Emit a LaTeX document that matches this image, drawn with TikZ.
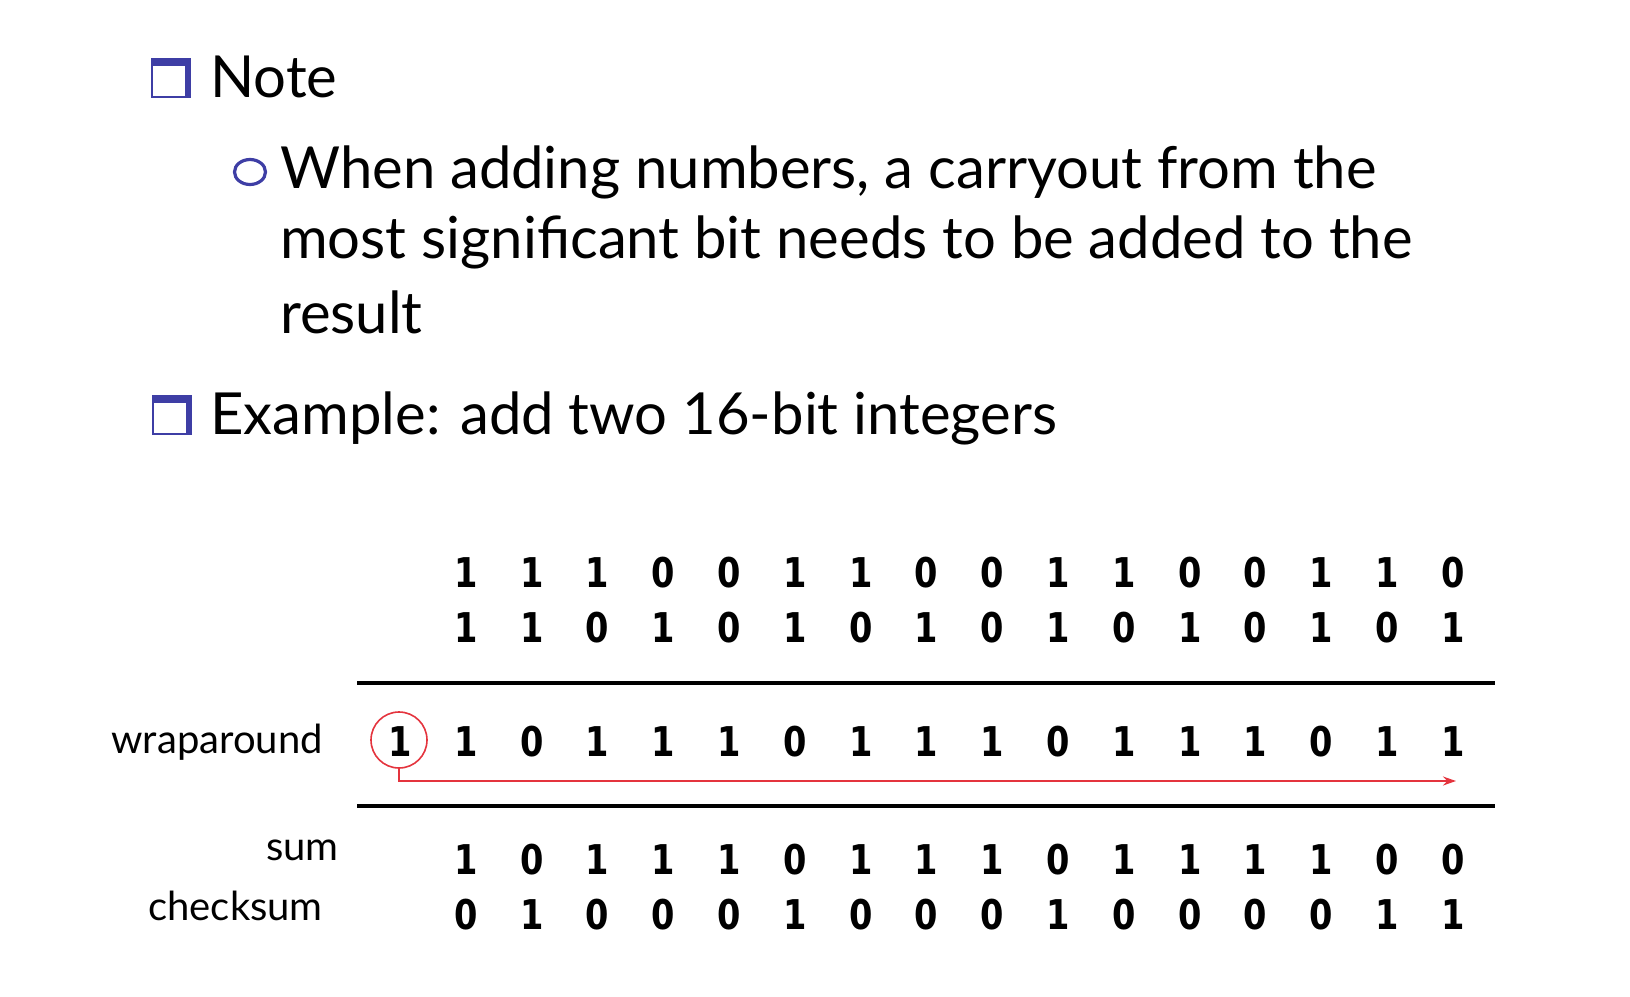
\documentclass[tikz,border=0pt]{standalone}
\usepackage{fontspec}
\setmainfont{Lato}
\newfontfamily\digitfont[FakeStretch=0.82]{DejaVu Sans}
\usetikzlibrary{arrows.meta}
\definecolor{bulletblue}{RGB}{62,62,165}
\definecolor{wrapred}{RGB}{228,52,62}
\tikzset{
  sqbullet/.pic={
    \draw[bulletblue, line width=2pt] (0,0) rectangle (38,-38);
    \fill[bulletblue] (-1,-39) rectangle (39,-31);
    \fill[bulletblue] (33,-39) rectangle (39,1);
  },
  heading/.style={anchor=base west, inner sep=0pt, font=\fontsize{58}{58}\selectfont},
  subtext/.style={anchor=base west, inner sep=0pt, font=\fontsize{58}{58}\selectfont},
  rowlabel/.style={anchor=base east, inner sep=0pt, font=\fontsize{40}{40}\selectfont},
  bit/.style={inner sep=0pt, font=\digitfont\bfseries\fontsize{41}{41}\selectfont},
  sumrule/.style={line width=4pt, black},
  carryring/.style={circle, draw=wrapred, line width=1.6pt, minimum size=56pt, inner sep=0pt},
  wraparrow/.style={wrapred, line width=1.6pt, -{Stealth[length=13pt,width=9pt]}}
}
\begin{document}
\begin{tikzpicture}[x=1pt,y=-1pt]
\useasboundingbox (0,0) rectangle (1630,996);
% bullets and texts
\pic at (152,97) {sqbullet};
\node[heading] (note) at (210,97) {Note};
\draw[bulletblue, line width=3.2pt] (250,172) ellipse [x radius=15.5, y radius=12.5];
\node[subtext] (l1) at (280,188) {When adding numbers, a carryout from the};
\node[subtext] (l2) at (280,258) {most significant bit needs to be added to the};
\node[subtext] (l3) at (280,333) {result};
\pic at (153,434) {sqbullet};
\node[heading] (ex) at (210,434) {Example: add two 16-bit integers};
% rows of bits
\foreach \b [count=\i from 0] in {1,1,1,0,0,1,1,0,0,1,1,0,0,1,1,0}
  \node[bit] (a\i) at ({466+65.8*\i},573) {\b};
\foreach \b [count=\i from 0] in {1,1,0,1,0,1,0,1,0,1,0,1,0,1,0,1}
  \node[bit] (b\i) at ({466+65.8*\i},628) {\b};
\foreach \b [count=\i from 0] in {1,0,1,1,1,0,1,1,1,0,1,1,1,0,1,1}
  \node[bit] (w\i) at ({466+65.8*\i},742) {\b};
\foreach \b [count=\i from 0] in {1,0,1,1,1,0,1,1,1,0,1,1,1,1,0,0}
  \node[bit] (s\i) at ({466+65.8*\i},860) {\b};
\foreach \b [count=\i from 0] in {0,1,0,0,0,1,0,0,0,1,0,0,0,0,1,1}
  \node[bit] (c\i) at ({466+65.8*\i},915) {\b};
\node[bit] (carry) at (400,742) {1};
\node[carryring] (ring) at (399,740) {};
% rules
\coordinate (r1a) at (357,683);
\coordinate (r1b) at (1495,683);
\coordinate (r2a) at (357,806);
\coordinate (r2b) at (1495,806);
\draw[sumrule] (r1a) -- (r1b);
\draw[sumrule] (r2a) -- (r2b);
% wraparound arrow
\coordinate (aend) at (1456,781);
\draw[wraparrow] (ring.south) |- (aend);
% labels
\node[rowlabel] (wl) at (323,753) {wraparound};
\node[rowlabel] (sl) at (339,860) {sum};
\node[rowlabel] (cl) at (323,920) {checksum};
\end{tikzpicture}
\end{document}
